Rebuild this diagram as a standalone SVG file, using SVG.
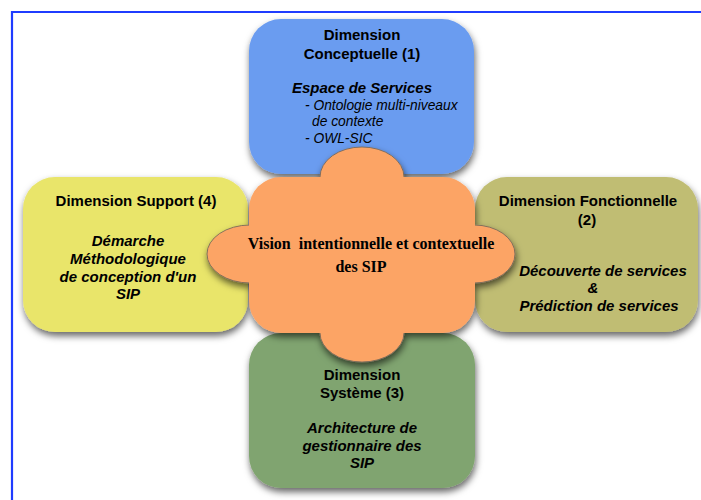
<svg xmlns="http://www.w3.org/2000/svg" width="701" height="500" viewBox="0 0 701 500">
<defs>
<filter id="sh" x="-20%" y="-20%" width="140%" height="150%">
<feDropShadow dx="1" dy="4" stdDeviation="3.5" flood-color="#000" flood-opacity="0.6"/>
</filter>
</defs>
<style>
.b{font-family:"Liberation Sans",Arial,sans-serif;font-weight:bold;font-size:15px;fill:#000;text-anchor:middle}
.bi{font-family:"Liberation Sans",Arial,sans-serif;font-weight:bold;font-style:italic;font-size:15px;fill:#000;text-anchor:middle}
.i{font-family:"Liberation Sans",Arial,sans-serif;font-style:italic;font-size:13.8px;fill:#000}
.c{font-family:"Liberation Serif","Times New Roman",serif;font-weight:bold;font-size:16px;fill:#000;text-anchor:middle;white-space:pre}
</style>
<rect width="701" height="500" fill="#fff"/>
<path d="M12,500 V12 H701" fill="none" stroke="#1f3cff" stroke-width="2.2"/>

<g id="conceptuelle">
<rect x="249" y="19" width="225" height="155" rx="32" fill="#6b9cf0" filter="url(#sh)"/>
<text class="b" x="362" y="40">Dimension</text>
<text class="b" x="362" y="59">Conceptuelle (1)</text>
<text class="bi" x="362" y="93">Espace de Services</text>
<text class="i" x="305" y="110">- Ontologie multi-niveaux</text>
<text class="i" x="312" y="126">de contexte</text>
<text class="i" x="305" y="143">- OWL-SIC</text>
</g>

<g id="support">
<rect x="23" y="177" width="225" height="155" rx="32" fill="#e9e56b" filter="url(#sh)"/>
<text class="b" x="136" y="206">Dimension Support (4)</text>
<text class="bi" x="128" y="246">Démarche</text>
<text class="bi" x="128" y="264">Méthodologique</text>
<text class="bi" x="128" y="282">de conception d'un</text>
<text class="bi" x="128" y="299">SIP</text>
</g>

<g id="fonctionnelle">
<rect x="475" y="177" width="223" height="155" rx="32" fill="#c0bd73" filter="url(#sh)"/>
<text class="b" x="588" y="206">Dimension Fonctionnelle</text>
<text class="b" x="587" y="225">(2)</text>
<text class="bi" x="603" y="276">Découverte de services</text>
<text class="bi" x="593" y="293">&amp;</text>
<text class="bi" x="599" y="311">Prédiction de services</text>
</g>

<g id="systeme">
<rect x="249" y="333" width="226" height="155" rx="32" fill="#80a46f" filter="url(#sh)"/>
<text class="b" x="362" y="380">Dimension</text>
<text class="b" x="362" y="398">Système (3)</text>
<text class="bi" x="362" y="433">Architecture de</text>
<text class="bi" x="362" y="451">gestionnaire des</text>
<text class="bi" x="362" y="468">SIP</text>
</g>

<g id="vision">
<g filter="url(#sh)">
<g stroke="#7a6a5a" stroke-width="0.9" fill="#fca465">
<ellipse cx="250" cy="254" rx="43" ry="29"/>
<ellipse cx="474" cy="254" rx="41" ry="29"/>
<ellipse cx="362" cy="177" rx="42" ry="30"/>
<ellipse cx="362" cy="333" rx="42" ry="29"/>
</g>
<rect x="249" y="177" width="226" height="156" rx="32" fill="#fca465"/>
</g>
<text class="c" x="371" y="249">Vision  intentionnelle et contextuelle</text>
<text class="c" x="361" y="272">des SIP</text>
</g>
</svg>
